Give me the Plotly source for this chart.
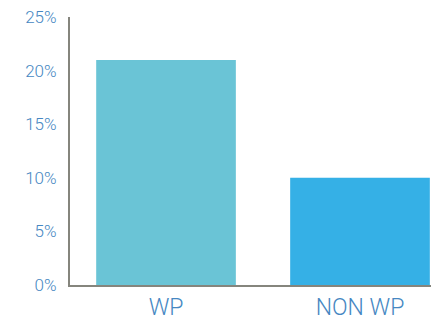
import plotly.graph_objects as go

categories = ["WP", "NON WP"]
values = [21, 10]
bar_colors = ["#6ac4d6", "#35b0e6"]
y_ticks = [0, 5, 10, 15, 20, 25]
y_tick_labels = ["0%", "5%", "10%", "15%", "20%", "25%"]

text_color = "#4687c2"
axis_color = "#85857d"

fig = go.Figure(go.Bar(
    x=[0, 1], y=values, width=0.72,
    marker=dict(color=bar_colors, line=dict(width=0)),
))

fig.update_layout(
    width=431, height=320,
    margin=dict(l=70, r=0, t=17, b=35),
    paper_bgcolor="white", plot_bgcolor="white",
    showlegend=False,
    font=dict(family="Roboto", weight=300, color=text_color),
)
fig.update_xaxes(
    range=[-0.495, 1.366], automargin=False,
    tickmode="array", tickvals=[0, 1], ticktext=categories,
    showline=True, linecolor=axis_color, linewidth=2,
    showgrid=False, zeroline=False,
    ticks="", ticklabelstandoff=0,
    tickfont=dict(size=23, color=text_color, family="Roboto", weight=300),
)
fig.update_yaxes(
    range=[0, 25], automargin=False,
    tickmode="array", tickvals=y_ticks, ticktext=y_tick_labels,
    showline=True, linecolor=axis_color, linewidth=2,
    showgrid=False, zeroline=False,
    ticks="outside", ticklen=8, tickcolor="rgba(0,0,0,0)",
    tickfont=dict(size=17, color=text_color, family="Roboto", weight=300),
)

fig.write_html("out.html")
